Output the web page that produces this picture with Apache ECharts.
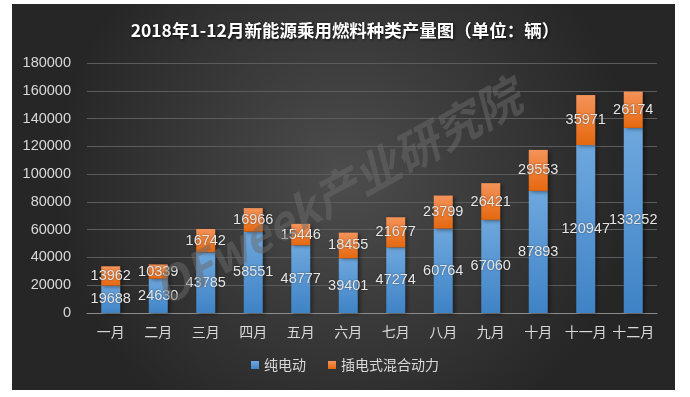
<!DOCTYPE html>
<html>
<head>
<meta charset="utf-8">
<script src="https://cdn.jsdelivr.net/npm/echarts@6/dist/echarts.min.js"></script>
<style>
  html, body { margin: 0; padding: 0; background: #fff; }
  #chart { width: 690px; height: 397px; }
</style>
</head>
<body>
<div id="chart"></div>
<script>
// 月份
var months = ['一月', '二月', '三月', '四月', '五月', '六月', '七月', '八月', '九月', '十月', '十一月', '十二月'];
// 纯电动
var bevValues = [19688, 24630, 43785, 58551, 48777, 39401, 47274, 60764, 67060, 87893, 120947, 133252];
// 插电式混合动力
var phevValues = [13962, 10339, 16742, 16966, 15446, 18455, 21677, 23799, 26421, 29553, 35971, 26174];
var seriesNames = ['纯电动', '插电式混合动力'];

var myChart = echarts.init(document.getElementById('chart'));

var labelStyle = {
  show: true,
  position: 'inside',
  color: '#e6e6e6',
  fontSize: 14.5,
  fontFamily: 'Liberation Sans, Noto Sans, sans-serif',
  textShadowColor: 'rgba(0,0,0,0.5)',
  textShadowBlur: 2
};

var option = {
  backgroundColor: '#ffffff',
  animation: false,
  graphic: [
    {
      type: 'rect',
      z: -10,
      silent: true,
      shape: { x: 12, y: 4, width: 663, height: 386 },
      style: {
        fill: new echarts.graphic.RadialGradient(0.5, 0.45, 0.75, [
          { offset: 0, color: '#4d4d4d' },
          { offset: 1, color: '#262626' }
        ])
      }
    },
    {
      // 水印
      type: 'text',
      z: 100,
      silent: true,
      x: 337,
      y: 192,
      rotation: 29 * Math.PI / 180,
      style: {
        text: 'OFweek产业研究院',
        fontSize: 46,
        fontStyle: 'italic',
        fontWeight: 'bold',
        fontFamily: 'Noto Sans CJK SC, sans-serif',
        fill: 'rgba(105,105,105,0.5)',
        align: 'center',
        verticalAlign: 'middle'
      }
    }
  ],
  title: {
    text: '2018年1-12月新能源乘用燃料种类产量图（单位：辆）',
    left: 'center',
    top: 17,
    textStyle: {
      color: '#ffffff',
      fontSize: 17.5,
      fontWeight: 'bold',
      fontFamily: 'Noto Sans CJK SC, sans-serif',
      textShadowColor: 'rgba(0,0,0,0.8)',
      textShadowBlur: 3,
      textShadowOffsetX: 1,
      textShadowOffsetY: 1
    }
  },
  legend: {
    data: seriesNames,
    bottom: 20,
    left: 'center',
    itemWidth: 8,
    itemHeight: 8,
    itemGap: 22,
    icon: 'rect',
    textStyle: {
      color: '#d9d9d9',
      fontSize: 14,
      fontFamily: 'Noto Sans CJK SC, sans-serif'
    }
  },
  grid: {
    left: 87,
    right: 33,
    top: 63,
    bottom: 84
  },
  xAxis: {
    type: 'category',
    data: months,
    axisLine: { lineStyle: { color: '#8c8c8c', width: 1 } },
    axisTick: { show: false },
    axisLabel: {
      color: '#d9d9d9',
      fontSize: 14,
      margin: 12,
      interval: 0,
      fontFamily: 'Noto Sans CJK SC, sans-serif'
    }
  },
  yAxis: {
    type: 'value',
    min: 0,
    max: 180000,
    interval: 20000,
    axisLine: { show: false },
    axisTick: { show: false },
    axisLabel: {
      color: '#d9d9d9',
      fontSize: 14.5,
      margin: 16,
      formatter: function (v) { return String(v); },
      fontFamily: 'Liberation Sans, Noto Sans, sans-serif'
    },
    splitLine: { lineStyle: { color: '#5c5c5c', width: 1 } }
  },
  series: [
    {
      name: seriesNames[0],
      type: 'bar',
      stack: 'total',
      data: bevValues,
      barWidth: '40%',
      label: labelStyle,
      itemStyle: {
        color: new echarts.graphic.LinearGradient(0, 0, 0, 1, [
          { offset: 0, color: '#6ea7dd' },
          { offset: 1, color: '#3f83c6' }
        ]),
        shadowColor: 'rgba(0,0,0,0.45)',
        shadowBlur: 4,
        shadowOffsetX: 2,
        shadowOffsetY: 1
      }
    },
    {
      name: seriesNames[1],
      type: 'bar',
      stack: 'total',
      data: phevValues,
      barWidth: '40%',
      label: labelStyle,
      itemStyle: {
        color: new echarts.graphic.LinearGradient(0, 0, 0, 1, [
          { offset: 0, color: '#f4935a' },
          { offset: 1, color: '#e5680f' }
        ]),
        shadowColor: 'rgba(0,0,0,0.45)',
        shadowBlur: 4,
        shadowOffsetX: 2,
        shadowOffsetY: 1
      }
    }
  ]
};

myChart.setOption(option);
window.onresize = function () {
  myChart.resize();
};
</script>
</body>
</html>
